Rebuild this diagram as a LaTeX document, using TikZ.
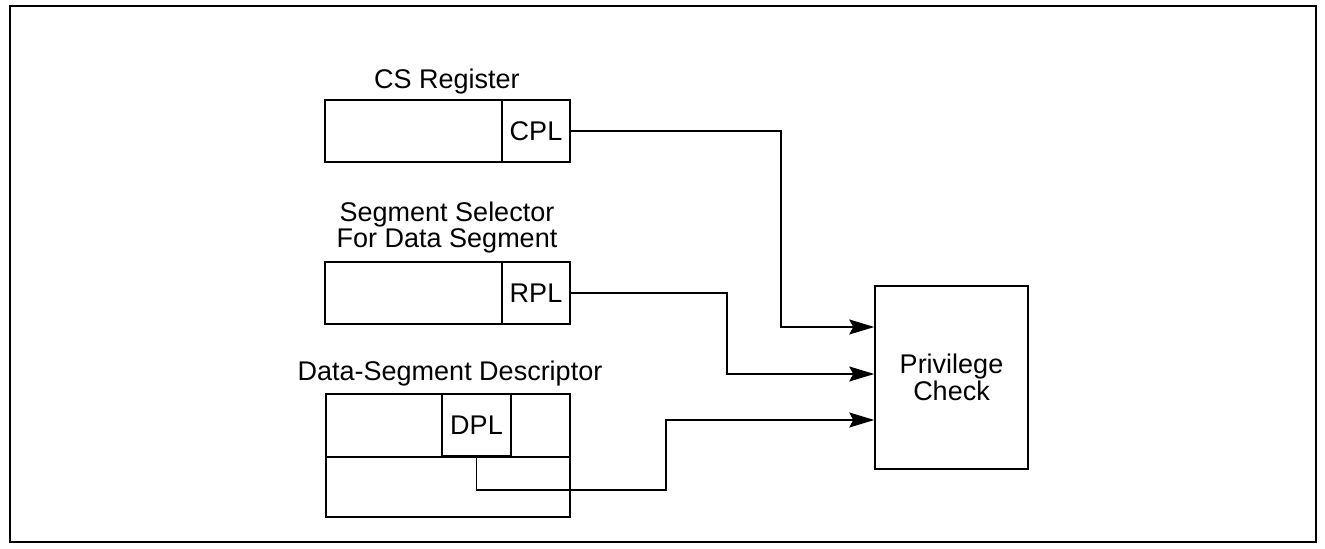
\documentclass[tikz,border=0pt]{standalone}
\usepackage{fontspec}
\setmainfont{Liberation Sans}
\usepackage{tikz}
\usetikzlibrary{arrows.meta}

\tikzset{
  cell/.style={draw, line width=0.75pt, inner sep=0pt, font=\fontsize{13.5}{13.5}\selectfont},
  lbl/.style={align=center, inner sep=0pt, font=\fontsize{13.5}{13}\selectfont},
  arr/.style={line width=0.75pt, -{Stealth[length=12.5pt, width=7.5pt, inset=2pt]}}
}

\begin{document}
\begin{tikzpicture}[x=0.5pt, y=-0.5pt]
                            \useasboundingbox (0,0) rectangle (1325,549);
                            \draw[line width=1pt] (10,6) rectangle (1316,542);
                            % registers
                            \node[cell, minimum width=122.5pt, minimum height=31pt] (cs) at (447.5,131) {};
                            \node[cell, minimum width=34pt, minimum height=31pt] (cpl) at (536,131) {CPL};
                            \node[cell, minimum width=122.5pt, minimum height=31pt] (sel) at (447.5,293) {};
                            \node[cell, minimum width=34pt, minimum height=31pt] (rpl) at (536,293) {RPL};
                            \node[cell, minimum width=122pt, minimum height=61.5pt] (dsd) at (448,455.5) {};
                            \node[cell, minimum width=34.5pt, minimum height=31pt] (dpl) at (476.5,425) {DPL};
                            \draw[line width=0.75pt] (dsd.west |- dpl.south) -- (dsd.east |- dpl.south);
                            \node[cell, minimum width=76.5pt, minimum height=91.5pt, align=center] (chk) at (951.5,377.5) {Privilege\\Check};
                            % labels
                            \node[lbl] (csl) at (447,82) {CS Register};
                            \node[lbl] (sell) at (447,228) {Segment Selector\\For Data Segment};
                            \node[lbl] (dsdl) at (450,374) {Data-Segment Descriptor};
                            % connectors
                            \coordinate (b1) at (781,327);
                            \coordinate (b2) at (727,374);
                            \coordinate (b3) at (666,490);
                            \coordinate (b4) at (666,420);
                            \draw[arr] (cpl.east) -| (b1) -- (chk.west |- b1);
                            \draw[arr] (rpl.east) -| (b2) -- (chk.west |- b2);
                            \draw[arr] (dpl.south) |- (b3) -- (b4) -- (chk.west |- b4);
                        \end{tikzpicture}
\end{document}
